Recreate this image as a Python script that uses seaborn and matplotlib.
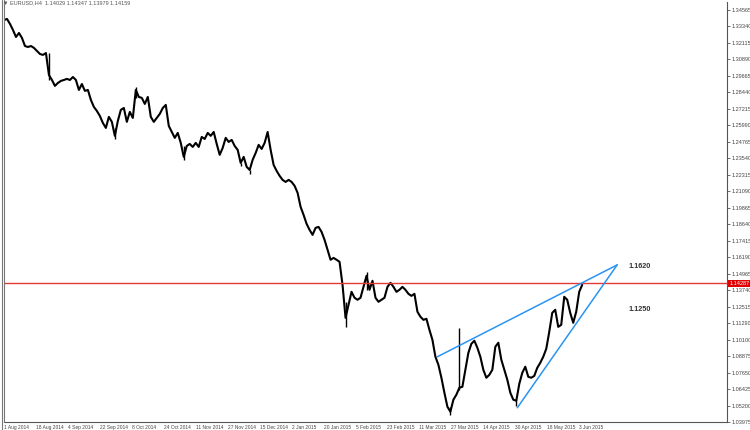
import numpy as np
import pandas as pd
import matplotlib
matplotlib.use("Agg")
import matplotlib.pyplot as plt
import matplotlib.transforms as mtransforms
from matplotlib.lines import Line2D
import seaborn as sns

# ==========================================
# DATA
# ==========================================
SYMBOL = "EURUSD,H4"
LAST_BAR = ["1.14029", "1.14347", "1.13979", "1.14159"]
BID = 1.14287

closes = [
    1.3382, 1.3390, 1.3353, 1.3308, 1.3256, 1.3286, 1.3249, 1.3189, 1.3182, 1.3189,
    1.3175, 1.3152, 1.3130, 1.3123, 1.3137, 1.2974, 1.2937, 1.2893, 1.2915, 1.2930,
    1.2937, 1.2945, 1.2937, 1.2959, 1.2937, 1.2863, 1.2907, 1.2856, 1.2863, 1.2789,
    1.2737, 1.2707, 1.2670, 1.2618, 1.2581, 1.2663, 1.2626, 1.2522, 1.2633, 1.2715,
    1.2729, 1.2626, 1.2700, 1.2655, 1.2863, 1.2811, 1.2804, 1.2759, 1.2811, 1.2663,
    1.2626, 1.2655, 1.2685, 1.2729, 1.2752, 1.2596, 1.2551, 1.2507, 1.2544, 1.2470,
    1.2366, 1.2447, 1.2462, 1.2440, 1.2470, 1.2440, 1.2514, 1.2499, 1.2544, 1.2522,
    1.2551, 1.2462, 1.2381, 1.2433, 1.2507, 1.2477, 1.2492, 1.2447, 1.2418, 1.2321,
    1.2366, 1.2292, 1.2269, 1.2344, 1.2395, 1.2455, 1.2425, 1.2470, 1.2551, 1.2418,
    1.2306, 1.2262, 1.2225, 1.2195, 1.2180, 1.2195, 1.2180, 1.2151, 1.2099, 1.1995,
    1.1935, 1.1869, 1.1824, 1.1787, 1.1839, 1.1846, 1.1809, 1.1750, 1.1676, 1.1602,
    1.1616, 1.1602, 1.1587, 1.1416, 1.1171, 1.1268, 1.1364, 1.1320, 1.1305, 1.1320,
    1.1401, 1.1483, 1.1379, 1.1446, 1.1320, 1.1290, 1.1305, 1.1320, 1.1401, 1.1431,
    1.1401, 1.1364, 1.1379, 1.1401, 1.1379, 1.1349, 1.1334, 1.1349, 1.1216, 1.1179,
    1.1156, 1.1164, 1.1082, 1.1008, 1.0882, 1.0822, 1.0726, 1.0615, 1.0511, 1.0474,
    1.0563, 1.0600, 1.0652, 1.0659, 1.0785, 1.0911, 1.0978, 1.1001, 1.0949, 1.0882,
    1.0785, 1.0726, 1.0748, 1.0785, 1.0956, 1.0986, 1.0860, 1.0785, 1.0711, 1.0615,
    1.0563, 1.0555, 1.0681, 1.0763, 1.0808, 1.0733, 1.0726, 1.0740, 1.0800, 1.0837,
    1.0882, 1.0941, 1.1067, 1.1208, 1.1231, 1.1104, 1.1119, 1.1327, 1.1305, 1.1208,
    1.1134, 1.1216, 1.1364, 1.1416,
]

# bars with long shadows
wick_bars = [15, 37, 44, 60, 79, 82, 114, 121, 149, 152, 171]
wick_highs = [1.3137, 1.2581, 1.2885, 1.2447, 1.2321, 1.2269, 1.1290, 1.1513, 1.0511, 1.1097, 1.0563]
wick_lows = [1.2937, 1.2500, 1.2804, 1.2344, 1.2299, 1.2240, 1.1104, 1.1379, 1.0452, 1.0637, 1.0518]

# rising wedge drawn on the chart (bar, price)
upper_line_bars = [144.67, 204.67]
upper_line_prices = [1.0882, 1.1564]
lower_line_bars = [171.33, 204.67]
lower_line_prices = [1.0503, 1.1564]

level_labels = ["1.1620", "1.1250"]
level_prices = [1.1550, 1.1231]

price_ticks = [1.34565, 1.33340, 1.32115, 1.30890, 1.29665, 1.28440, 1.27215,
               1.25990, 1.24765, 1.23540, 1.22315, 1.21090, 1.19865, 1.18640,
               1.17415, 1.16190, 1.14965, 1.13740, 1.12515, 1.11290, 1.10100,
               1.08875, 1.07650, 1.06425, 1.05200, 1.03975]

date_labels = ["1 Aug 2014", "18 Aug 2014", "4 Sep 2014", "22 Sep 2014",
               "8 Oct 2014", "24 Oct 2014", "11 Nov 2014", "27 Nov 2014",
               "15 Dec 2014", "2 Jan 2015", "20 Jan 2015", "5 Feb 2015",
               "23 Feb 2015", "11 Mar 2015", "27 Mar 2015", "14 Apr 2015",
               "30 Apr 2015", "18 May 2015", "3 Jun 2015"]

# ==========================================
# PLOT
# ==========================================
sns.set_theme(style="white")
plt.rcParams['font.family'] = ['Liberation Sans', 'DejaVu Sans']

df = pd.DataFrame({"bar": np.arange(len(closes)), "close": closes})

fig = plt.figure(figsize=(7.5, 4.3), dpi=100)
ax = fig.add_axes([4 / 750, 8 / 430, 723 / 750, 420 / 430])

sns.lineplot(data=df, x="bar", y="close", color="black", linewidth=1.5, ax=ax)
ax.vlines(wick_bars, wick_lows, wick_highs, color="black", linewidth=1.0)

ax.axhline(BID, color="#e53935", linewidth=1.0)
ax.plot(upper_line_bars, upper_line_prices, color="#2a94f4", linewidth=1.1)
ax.plot(lower_line_bars, lower_line_prices, color="#2a94f4", linewidth=1.1)

for lbl, p in zip(level_labels, level_prices):
    ax.text(208.3, p, lbl, fontsize=5.2, fontweight="bold", color="#333333",
            ha="left", va="center")

ax.set_xlim(0.333, 241.33)
ax.set_ylim(1.03995, 1.35159)

# axes styling, MT4 look
for side in ["top", "left"]:
    ax.spines[side].set_visible(False)
for side in ["right", "bottom"]:
    ax.spines[side].set_color("#555555")
    ax.spines[side].set_linewidth(0.8)

ax.yaxis.tick_right()
ax.set_yticks(price_ticks)
ax.set_yticklabels([f"{t:.5f}" for t in price_ticks])
ax.tick_params(axis="y", direction="out", length=2, width=0.6, pad=1,
               labelsize=4, labelcolor="#444444", color="#555555")

ax.set_xticks(np.arange(len(date_labels)) * 32 / 3)
ax.set_xticklabels(date_labels, ha="left")
ax.tick_params(axis="x", direction="out", length=2, width=0.6, pad=0.5,
               labelsize=3.5, labelcolor="#444444", color="#555555")
ax.set_xlabel("")
ax.set_ylabel("")

# current bid marker on the price scale
trans = mtransforms.blended_transform_factory(ax.transAxes, ax.transData)
ax.text(1.003, BID, f"{BID:.5f}", transform=trans, fontsize=4, color="white",
        ha="left", va="center", clip_on=False,
        bbox=dict(boxstyle="square,pad=0.2", fc="#e00000", ec="none"))

# chart header
fig.text(3 / 750, 1 - 3 / 430,
         "\u25bc " + SYMBOL + "  " + " ".join(LAST_BAR),
         fontsize=4, color="#555555", ha="left", va="center",
         family=["Liberation Sans", "DejaVu Sans"])

# double border on the left edge
fig.add_artist(Line2D([1.5 / 750, 1.5 / 750], [0, 1], color="#777777", linewidth=0.8))
fig.add_artist(Line2D([4 / 750, 4 / 750], [8 / 430, 1], color="#777777", linewidth=0.8))

fig.savefig("out.png", dpi=100)
